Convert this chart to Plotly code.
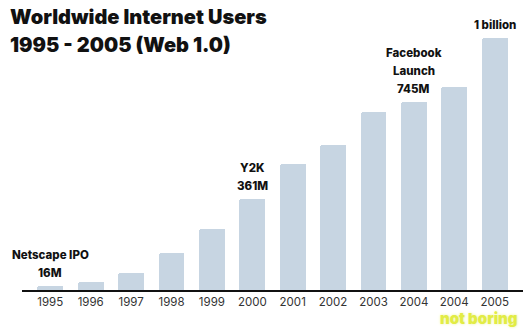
import plotly.graph_objects as go

# Worldwide internet users by year (millions)
years = ["1995", "1996", "1997", "1998", "1999", "2000",
         "2001", "2002", "2003", "2004", "2004", "2005"]
users_m = [16, 32, 68, 145, 243, 361, 500, 577, 708, 745, 805, 1000]

# Callout labels: (bar index, lines top-to-bottom)
callouts = [
    (0, ["Netscape IPO", "16M"]),
    (5, ["Y2K", "361M"]),
    (9, ["Facebook", "Launch", "745M"]),
    (11, ["1 billion"]),
]

positions = list(range(len(years)))

BAR_COLOR = "#c7d5e2"
FONT = "Inter"

fig = go.Figure(
    go.Bar(
        x=positions,
        y=users_m,
        width=0.64,
        marker=dict(color=BAR_COLOR, cornerradius=2, line=dict(width=0)),
        hoverinfo="skip",
    )
)

annotations = []
LINE_STEP = 18
for idx, lines in callouts:
    n = len(lines)
    for k, line in enumerate(lines):
        annotations.append(dict(
            x=positions[idx], y=users_m[idx], xref="x", yref="y",
            text=line, showarrow=False,
            yshift=13 + (n - 1 - k) * LINE_STEP,
            xanchor="center", yanchor="middle",
            font=dict(family=FONT, size=11.5, color="#111111", weight=800),
        ))

# Title lines
annotations.append(dict(
    x=-0.028, y=1.011, xref="paper", yref="paper",
    text="Worldwide Internet Users", showarrow=False,
    xanchor="left", yanchor="middle",
    font=dict(family=FONT, size=20, color="#111111", weight=900),
))
annotations.append(dict(
    x=-0.028, y=0.907, xref="paper", yref="paper",
    text="1995 - 2005 (Web 1.0)", showarrow=False,
    xanchor="left", yanchor="middle",
    font=dict(family=FONT, size=20, color="#111111", weight=900),
))

# Watermark
annotations.append(dict(
    x=0.913, y=-0.107, xref="paper", yref="paper",
    text="not boring", showarrow=False,
    xanchor="center", yanchor="middle",
    font=dict(family=FONT, size=15, color="#e2ec45", weight=900,
              shadow="0 0 3px #eef39a"),
))

fig.update_layout(
    width=527, height=329,
    margin=dict(l=22, r=4, t=20, b=39),
    paper_bgcolor="white", plot_bgcolor="white",
    showlegend=False,
    bargap=0,
    annotations=annotations,
    xaxis=dict(
        range=[-0.7, 11.7],
        tickmode="array", tickvals=positions, ticktext=years,
        showline=True, linecolor="#111111", linewidth=1.5,
        showgrid=False, zeroline=False, ticks="",
        tickfont=dict(family=FONT, size=11.5, color="#333333"),
    ),
    yaxis=dict(
        range=[0, 1071.4],
        visible=False, showgrid=False, zeroline=False,
    ),
)

fig.write_html("out.html")
